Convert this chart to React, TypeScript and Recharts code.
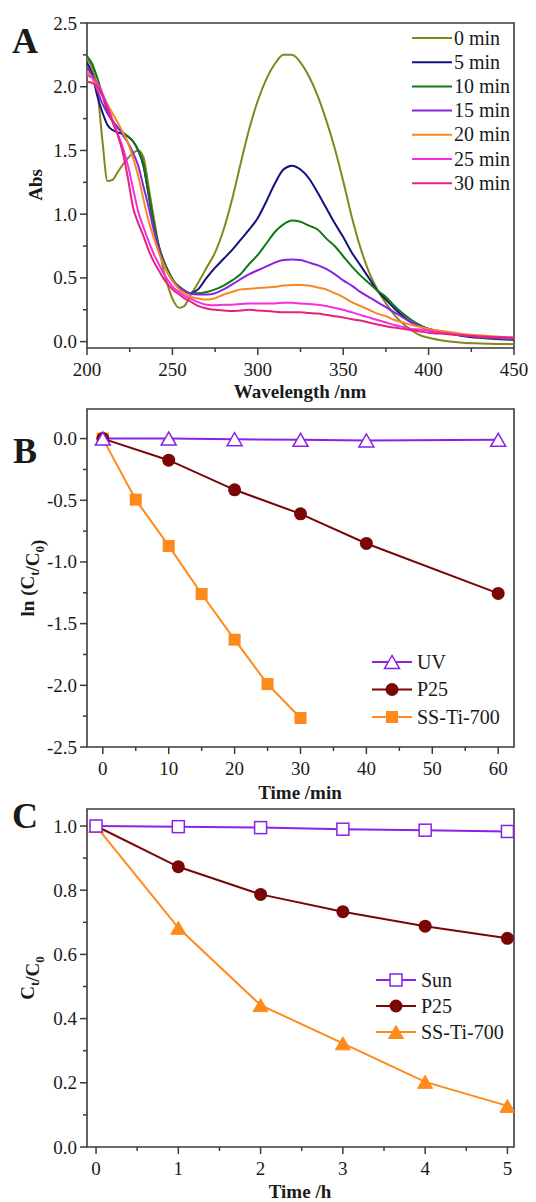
import React from 'react';
import { LineChart, Line, XAxis, YAxis, ReferenceArea, Legend } from 'recharts';

// ---- panel A: UV-vis spectra ----
const WAVELENGTH = [
  200, 203, 206, 209, 212, 215, 218, 221, 224, 227, 230, 233, 236, 239, 242, 245, 248, 251, 254, 257, 260,
  265, 270, 275, 280, 285, 290, 295, 300, 305, 310, 315, 320, 325, 330, 335, 340, 345, 350, 355, 360,
  365, 370, 375, 380, 385, 390, 395, 400, 410, 420, 430, 440, 450,
];
const ABS_0MIN = [
  2.22, 2.15, 1.98, 1.58, 1.26, 1.27, 1.33, 1.39, 1.44, 1.48, 1.5, 1.45, 1.22, 0.98, 0.75, 0.55, 0.41, 0.31, 0.265, 0.28, 0.35,
  0.46, 0.58, 0.7, 0.88, 1.12, 1.4, 1.67, 1.89, 2.06, 2.18, 2.25, 2.25, 2.19, 2.08, 1.93, 1.74, 1.52, 1.26, 0.98, 0.74,
  0.55, 0.41, 0.3, 0.21, 0.14, 0.09, 0.05, 0.03, 0.005, -0.008, -0.014, -0.018, -0.02,
];
const ABS_5MIN = [
  2.19, 2.1, 1.93, 1.8, 1.7, 1.66, 1.64, 1.63, 1.61, 1.57, 1.5, 1.38, 1.16, 0.93, 0.75, 0.63, 0.54, 0.47, 0.43, 0.4, 0.38,
  0.41, 0.5, 0.58, 0.65, 0.72, 0.8, 0.88, 0.97, 1.1, 1.24, 1.35, 1.38, 1.35, 1.28, 1.17, 1.05, 0.93, 0.82, 0.7, 0.6,
  0.5, 0.4, 0.33, 0.26, 0.2, 0.15, 0.12, 0.1, 0.07, 0.045, 0.03, 0.02, 0.015,
];
const ABS_10MIN = [
  2.24, 2.18, 2.07, 1.94, 1.81, 1.73, 1.68, 1.64, 1.61, 1.57, 1.5, 1.4, 1.16, 0.93, 0.75, 0.63, 0.54, 0.47, 0.43, 0.4, 0.38,
  0.38, 0.39, 0.41, 0.44, 0.48, 0.53, 0.61, 0.68, 0.77, 0.86, 0.92, 0.95, 0.94, 0.91, 0.88, 0.81, 0.75, 0.67, 0.59, 0.52,
  0.46, 0.4, 0.35, 0.28, 0.22, 0.17, 0.13, 0.1, 0.07, 0.05, 0.035, 0.025, 0.015,
];
const ABS_15MIN = [
  2.16, 2.08, 1.97, 1.87, 1.79, 1.73, 1.68, 1.62, 1.56, 1.48, 1.38, 1.22, 1.06, 0.88, 0.73, 0.61, 0.52, 0.46, 0.42, 0.4, 0.38,
  0.37, 0.37, 0.38, 0.41, 0.45, 0.49, 0.53, 0.56, 0.59, 0.62, 0.64, 0.645, 0.64, 0.62, 0.6, 0.57, 0.53, 0.48, 0.44, 0.39,
  0.35, 0.31, 0.27, 0.23, 0.19, 0.15, 0.12, 0.1, 0.075, 0.055, 0.04, 0.03, 0.02,
];
const ABS_20MIN = [
  2.12, 2.07, 1.99, 1.93, 1.86, 1.79, 1.72, 1.64, 1.56, 1.44, 1.3, 1.12, 0.95, 0.82, 0.7, 0.6, 0.52, 0.46, 0.41, 0.38, 0.355,
  0.34, 0.33, 0.34, 0.37, 0.39, 0.41, 0.415, 0.42, 0.425, 0.43, 0.44, 0.445, 0.445, 0.44, 0.425, 0.41, 0.38, 0.35, 0.31, 0.28,
  0.25, 0.22, 0.2, 0.17, 0.15, 0.13, 0.115, 0.1, 0.08, 0.06, 0.05, 0.04, 0.03,
];
const ABS_25MIN = [
  2.09, 2.07, 2.03, 1.95, 1.85, 1.74, 1.63, 1.52, 1.38, 1.2, 1.02, 0.9, 0.79, 0.69, 0.61, 0.53, 0.47, 0.42, 0.39, 0.36, 0.34,
  0.31, 0.29, 0.285, 0.29, 0.29, 0.295, 0.3, 0.3, 0.3, 0.3, 0.305, 0.305, 0.3, 0.295, 0.29, 0.28, 0.265, 0.25, 0.23, 0.21,
  0.19, 0.17, 0.15, 0.13, 0.115, 0.1, 0.095, 0.085, 0.065, 0.05, 0.04, 0.035, 0.03,
];
const ABS_30MIN = [
  2.04, 2.03, 2.0, 1.93, 1.83, 1.72, 1.62, 1.48, 1.28, 1.05, 0.93, 0.83, 0.72, 0.63, 0.56, 0.49, 0.44, 0.4, 0.37, 0.34, 0.32,
  0.28, 0.26, 0.25, 0.245, 0.24, 0.245, 0.25, 0.245, 0.24, 0.235, 0.23, 0.23, 0.23, 0.225, 0.22, 0.21, 0.2, 0.19, 0.175, 0.165,
  0.15, 0.135, 0.12, 0.11, 0.1, 0.09, 0.08, 0.07, 0.06, 0.05, 0.04, 0.035, 0.03,
];

// ---- panel B: ln(Ct/C0) vs time (min) ----
const B_TIME = [0, 10, 20, 30, 40, 60];
const B_UV = [0, 0, -0.005, -0.01, -0.015, -0.01];
const B_P25 = [0, -0.175, -0.415, -0.61, -0.85, -1.255];
const B_SS_TIME = [0, 5, 10, 15, 20, 25, 30];
const B_SS = [0, -0.495, -0.87, -1.26, -1.63, -1.99, -2.265];

// ---- panel C: Ct/C0 vs time (h) ----
const C_TIME = [0, 1, 2, 3, 4, 5];
const C_SUN = [1.0, 0.998, 0.995, 0.99, 0.987, 0.983];
const C_P25 = [1.0, 0.873, 0.787, 0.733, 0.688, 0.65];
const C_SS = [1.0, 0.683, 0.442, 0.323, 0.203, 0.128];

// tick values
const A_X_TICKS = [200, 225, 250, 275, 300, 325, 350, 375, 400, 425, 450];
const A_Y_TICKS = [0, 0.25, 0.5, 0.75, 1, 1.25, 1.5, 1.75, 2, 2.25, 2.5];
const B_X_TICKS = [0, 5, 10, 15, 20, 25, 30, 35, 40, 45, 50, 55, 60];
const B_Y_TICKS = [-2.5, -2.25, -2, -1.75, -1.5, -1.25, -1, -0.75, -0.5, -0.25, 0];
const C_X_TICKS = [0, 0.5, 1, 1.5, 2, 2.5, 3, 3.5, 4, 4.5, 5];
const C_Y_TICKS = [0, 0.1, 0.2, 0.3, 0.4, 0.5, 0.6, 0.7, 0.8, 0.9, 1.0];

const FONT = '"Liberation Serif", "Times New Roman", serif';
const AXIS = '#3a3a3a';
const TEXT = '#1a1a1a';
const VIOLET = '#8a22e6';
const WINE = '#7a0606';
const ORANGE = '#ff8a1c';

const SPECTRA = [
  { key: 'm0', name: '0 min', color: '#85851a', values: ABS_0MIN },
  { key: 'm5', name: '5 min', color: '#12127f', values: ABS_5MIN },
  { key: 'm10', name: '10 min', color: '#0d7a14', values: ABS_10MIN },
  { key: 'm15', name: '15 min', color: '#8a22e6', values: ABS_15MIN },
  { key: 'm20', name: '20 min', color: '#f58a22', values: ABS_20MIN },
  { key: 'm25', name: '25 min', color: '#f52ee0', values: ABS_25MIN },
  { key: 'm30', name: '30 min', color: '#e8207e', values: ABS_30MIN },
];

const spectraData = WAVELENGTH.map((w, i) => {
  const row: Record<string, number> = { w };
  SPECTRA.forEach((s) => (row[s.key] = s.values[i]));
  return row;
});

const toPoints = (xs: number[], ys: number[]) => xs.map((t, i) => ({ t, v: ys[i] }));

const isMajor = (v: number, step: number) => Math.abs(v / step - Math.round(v / step)) < 1e-6;

const xTick = (step: number, digits: number) => (props: any) => {
  const { x, y, payload } = props;
  const v = payload.value as number;
  const major = isMajor(v, step);
  return (
    <g>
      <line x1={x} x2={x} y1={y} y2={y + (major ? 7 : 4)} stroke={AXIS} strokeWidth={1.5} />
      {major && (
        <text x={x} y={y + 28} textAnchor="middle" fontFamily={FONT} fontSize={19} fill={TEXT}>
          {v.toFixed(digits)}
        </text>
      )}
    </g>
  );
};

const yTick = (step: number) => (props: any) => {
  const { x, y, payload } = props;
  const v = payload.value as number;
  const major = isMajor(v, step);
  return (
    <g>
      <line x1={x - (major ? 7 : 4)} x2={x} y1={y} y2={y} stroke={AXIS} strokeWidth={1.5} />
      {major && (
        <text x={x - 10} y={y + 6.5} textAnchor="end" fontFamily={FONT} fontSize={19} fill={TEXT}>
          {v.toFixed(1)}
        </text>
      )}
    </g>
  );
};

// marker shapes
const triPoints = (cx: number, cy: number) =>
  `${cx},${cy - 6.5} ${cx - 7.5},${cy + 6.5} ${cx + 7.5},${cy + 6.5}`;

const Marker = ({ kind, cx, cy, color }: { kind: string; cx: number; cy: number; color: string }) => {
  if (kind === 'openTri')
    return <polygon points={triPoints(cx, cy)} fill="#fff" stroke={color} strokeWidth={1.5} />;
  if (kind === 'tri') return <polygon points={triPoints(cx, cy)} fill={color} stroke={color} strokeWidth={1} />;
  if (kind === 'circle') return <circle cx={cx} cy={cy} r={6.5} fill={color} />;
  if (kind === 'square') return <rect x={cx - 6} y={cy - 6} width={12} height={12} fill={color} />;
  return <rect x={cx - 6} y={cy - 6} width={12} height={12} fill="#fff" stroke={color} strokeWidth={1.5} />;
};

const dotOf = (kind: string, color: string) => (p: any) => (
  <Marker key={`${kind}-${p.index}`} kind={kind} cx={p.cx} cy={p.cy} color={color} />
);

type Item = { name: string; color: string; kind?: string };

const legendOf = (items: Item[], opts: { w: number; h: number; y0: number; gap: number; x0: number; x1: number; tx: number; size: number }) => () => (
  <svg width={opts.w} height={opts.h} style={{ display: 'block', overflow: 'visible' }}>
    {items.map((it, i) => {
      const cy = opts.y0 + i * opts.gap;
      return (
        <g key={it.name}>
          <line x1={opts.x0} x2={opts.x1} y1={cy} y2={cy} stroke={it.color} strokeWidth={2} />
          {it.kind && <Marker kind={it.kind} cx={(opts.x0 + opts.x1) / 2} cy={cy} color={it.color} />}
          <text x={opts.tx} y={cy + 6.5} fontFamily={FONT} fontSize={opts.size} fill={TEXT}>
            {it.name}
          </text>
        </g>
      );
    })}
  </svg>
);

const frameStyle = { fill: 'none', stroke: AXIS, strokeWidth: 1.6 };

const PanelA = () => (
  <LineChart width={536} height={400} data={spectraData} margin={{ top: 23, right: 22, bottom: 0, left: 0 }}>
    <XAxis
      dataKey="w"
      type="number"
      domain={[200, 450]}
      allowDataOverflow
      ticks={A_X_TICKS}
      interval={0}
      height={52}
      axisLine={false}
      tickLine={false}
      tickSize={0}
      tickMargin={0}
      tick={xTick(50, 0)}
    />
    <YAxis
      type="number"
      domain={[-0.05, 2.5]}
      allowDataOverflow
      ticks={A_Y_TICKS}
      interval={0}
      width={87}
      axisLine={false}
      tickLine={false}
      tickSize={0}
      tickMargin={0}
      tick={yTick(0.5)}
    />
    <ReferenceArea x1={200} x2={450} y1={-0.05} y2={2.5} {...frameStyle} />
    {SPECTRA.map((s) => (
      <Line
        key={s.key}
        dataKey={s.key}
        name={s.name}
        type="monotone"
        stroke={s.color}
        strokeWidth={2}
        dot={false}
        isAnimationActive={false}
      />
    ))}
    <Legend
      layout="vertical"
      align="center"
      verticalAlign="middle"
      wrapperStyle={{ left: 405, top: 25, width: 125, height: 175 }}
      content={legendOf(SPECTRA, { w: 125, h: 175, y0: 13, gap: 24.2, x0: 7, x1: 47, tx: 49, size: 20 })}
    />
  </LineChart>
);

const B_ITEMS: Item[] = [
  { name: 'UV', color: VIOLET, kind: 'openTri' },
  { name: 'P25', color: WINE, kind: 'circle' },
  { name: 'SS-Ti-700', color: ORANGE, kind: 'square' },
];

const PanelB = () => (
  <LineChart width={536} height={400} margin={{ top: 9, right: 22, bottom: 0, left: 0 }}>
    <XAxis
      dataKey="t"
      type="number"
      domain={[-2.4, 62.4]}
      allowDataOverflow
      ticks={B_X_TICKS}
      interval={0}
      height={53}
      axisLine={false}
      tickLine={false}
      tickSize={0}
      tickMargin={0}
      tick={xTick(10, 0)}
    />
    <YAxis
      type="number"
      domain={[-2.5, 0.24]}
      allowDataOverflow
      ticks={B_Y_TICKS}
      interval={0}
      width={87}
      axisLine={false}
      tickLine={false}
      tickSize={0}
      tickMargin={0}
      tick={yTick(0.5)}
    />
    <ReferenceArea x1={-2.4} x2={62.4} y1={-2.5} y2={0.24} {...frameStyle} />
    <Line data={toPoints(B_SS_TIME, B_SS)} dataKey="v" name="SS-Ti-700" type="linear" stroke={ORANGE} strokeWidth={2} dot={dotOf('square', ORANGE)} isAnimationActive={false} />
    <Line data={toPoints(B_TIME, B_P25)} dataKey="v" name="P25" type="linear" stroke={WINE} strokeWidth={2} dot={dotOf('circle', WINE)} isAnimationActive={false} />
    <Line data={toPoints(B_TIME, B_UV)} dataKey="v" name="UV" type="linear" stroke={VIOLET} strokeWidth={2} dot={dotOf('openTri', VIOLET)} isAnimationActive={false} />
    <Legend
      layout="vertical"
      align="center"
      verticalAlign="middle"
      wrapperStyle={{ left: 365, top: 245, width: 150, height: 90 }}
      content={legendOf(B_ITEMS, { w: 150, h: 90, y0: 17, gap: 27.5, x0: 7, x1: 47, tx: 52, size: 20 })}
    />
  </LineChart>
);

const C_ITEMS: Item[] = [
  { name: 'Sun', color: VIOLET, kind: 'openSquare' },
  { name: 'P25', color: WINE, kind: 'circle' },
  { name: 'SS-Ti-700', color: ORANGE, kind: 'tri' },
];

const PanelC = () => (
  <LineChart width={536} height={400} margin={{ top: 9, right: 22, bottom: 0, left: 0 }}>
    <XAxis
      dataKey="t"
      type="number"
      domain={[-0.11, 5.08]}
      allowDataOverflow
      ticks={C_X_TICKS}
      interval={0}
      height={53}
      axisLine={false}
      tickLine={false}
      tickSize={0}
      tickMargin={0}
      tick={xTick(1, 0)}
    />
    <YAxis
      type="number"
      domain={[0, 1.053]}
      allowDataOverflow
      ticks={C_Y_TICKS}
      interval={0}
      width={87}
      axisLine={false}
      tickLine={false}
      tickSize={0}
      tickMargin={0}
      tick={yTick(0.2)}
    />
    <ReferenceArea x1={-0.11} x2={5.08} y1={0} y2={1.053} {...frameStyle} />
    <Line data={toPoints(C_TIME, C_SS)} dataKey="v" name="SS-Ti-700" type="linear" stroke={ORANGE} strokeWidth={2} dot={dotOf('tri', ORANGE)} isAnimationActive={false} />
    <Line data={toPoints(C_TIME, C_P25)} dataKey="v" name="P25" type="linear" stroke={WINE} strokeWidth={2} dot={dotOf('circle', WINE)} isAnimationActive={false} />
    <Line data={toPoints(C_TIME, C_SUN)} dataKey="v" name="Sun" type="linear" stroke={VIOLET} strokeWidth={2} dot={dotOf('openSquare', VIOLET)} isAnimationActive={false} />
    <Legend
      layout="vertical"
      align="center"
      verticalAlign="middle"
      wrapperStyle={{ left: 365, top: 165, width: 150, height: 90 }}
      content={legendOf(C_ITEMS, { w: 150, h: 90, y0: 15, gap: 26, x0: 11, x1: 51, tx: 56, size: 20 })}
    />
  </LineChart>
);

const sub = (s: string) => (
  <>
    <tspan dy={5} fontSize={13}>{s}</tspan>
    <tspan dy={-5}>{''}</tspan>
  </>
);

const titleProps = { fontFamily: FONT, fontSize: 19, fontWeight: 'bold' as const, fill: TEXT };
const letterProps = { fontFamily: FONT, fontSize: 36, fontWeight: 'bold' as const, fill: TEXT };

export default function App() {
  return (
    <div style={{ position: 'absolute', left: 0, top: 0, width: 536, height: 1202, background: '#fff' }}>
      <div style={{ position: 'absolute', left: 0, top: 0 }}>
        <PanelA />
      </div>
      <div style={{ position: 'absolute', left: 0, top: 400 }}>
        <PanelB />
      </div>
      <div style={{ position: 'absolute', left: 0, top: 800 }}>
        <PanelC />
      </div>
      <svg width={536} height={1202} style={{ position: 'absolute', left: 0, top: 0, pointerEvents: 'none' }}>
        <text x={12} y={53} {...letterProps}>A</text>
        <text x={13} y={463} {...letterProps}>B</text>
        <text x={12} y={828} {...letterProps}>C</text>

        <text x={300} y={398} textAnchor="middle" {...titleProps}>Wavelength /nm</text>
        <text x={300} y={799} textAnchor="middle" {...titleProps}>Time /min</text>
        <text x={300} y={1198} textAnchor="middle" {...titleProps}>Time /h</text>

        <text transform="translate(42,185) rotate(-90)" textAnchor="middle" {...titleProps}>Abs</text>
        <text transform="translate(34,578) rotate(-90)" textAnchor="middle" {...titleProps}>
          ln (C{sub('t')}/C{sub('0')})
        </text>
        <text transform="translate(34,978) rotate(-90)" textAnchor="middle" {...titleProps}>
          C{sub('t')}/C{sub('0')}
        </text>
      </svg>
    </div>
  );
}
